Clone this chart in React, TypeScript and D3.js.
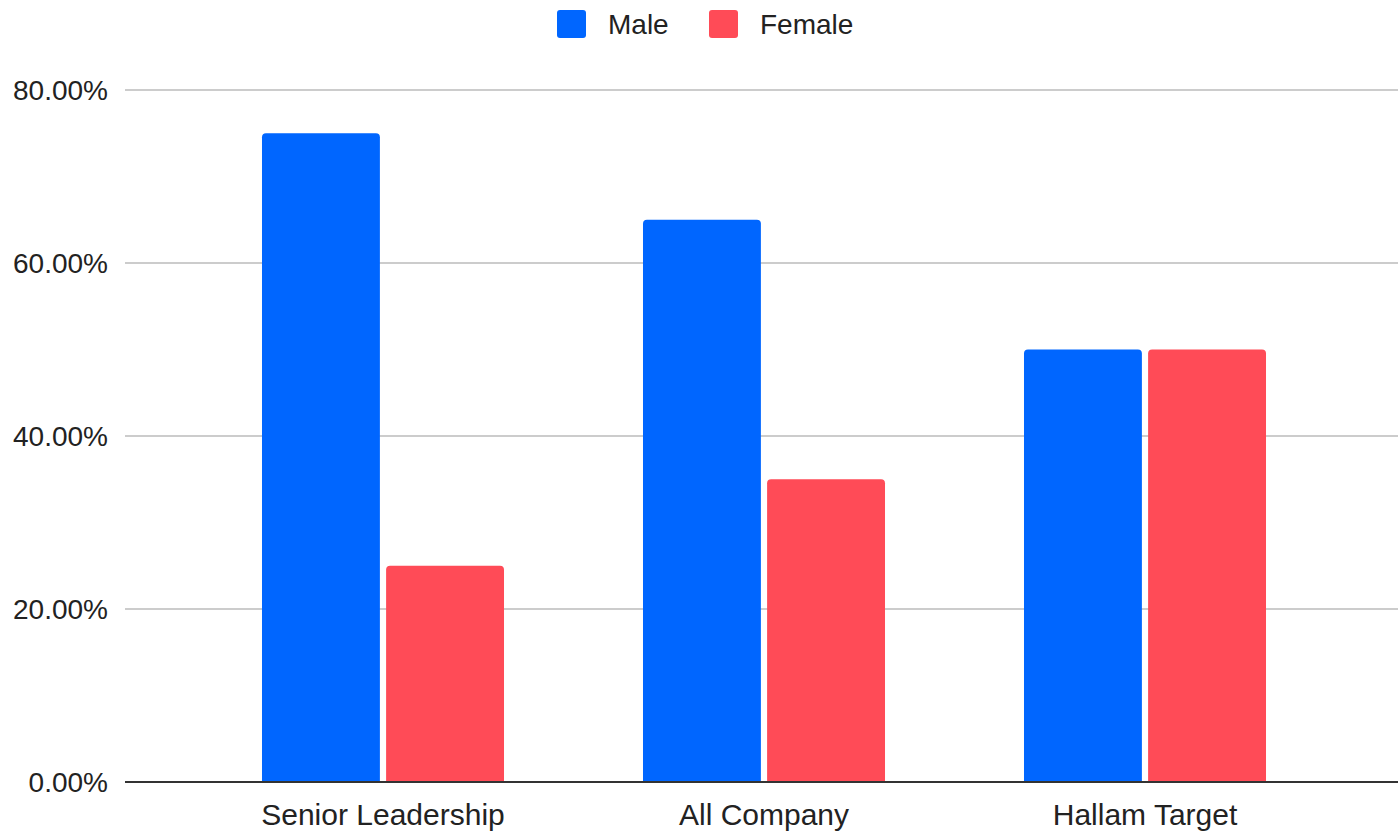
import React from "react";
import * as d3 from "d3";

const categories = ["Senior Leadership", "All Company", "Hallam Target"];
const seriesNames = ["Male", "Female"];
const maleValues = [0.75, 0.65, 0.5];
const femaleValues = [0.25, 0.35, 0.5];
const yTicks = [0, 0.2, 0.4, 0.6, 0.8];
const colors = ["#0066ff", "#ff4b57"];

const W = 1398;
const H = 833;
const plotLeft = 125;
const plotRight = 1398;
const yBottom = 782;
const yTop = 90;
const FONT = "'Liberation Sans', Arial, sans-serif";

function topRoundedRect(x: number, y: number, w: number, h: number, r: number) {
  const rr = Math.min(r, h, w / 2);
  return `M${x},${y + h}V${y + rr}Q${x},${y} ${x + rr},${y}H${x + w - rr}Q${x + w},${y} ${x + w},${y + rr}V${y + h}Z`;
}

export default function App() {
  const y = d3.scaleLinear().domain([0, 0.8]).range([yBottom, yTop]);
  const x0 = d3
    .scaleBand<string>()
    .domain(categories)
    .range([192.5, 1335.5])
    .paddingInner(0.3648)
    .paddingOuter(0.1824);
  const x1 = d3.scaleBand<string>().domain(seriesNames).range([0, x0.bandwidth()]).paddingInner(0.05);
  const series = [maleValues, femaleValues];
  const fmt = d3.format(".2%");

  return (
    <svg
      width={W}
      height={H}
      style={{ position: "absolute", left: 0, top: 0, background: "#fff" }}
      fontFamily={FONT}
    >
      <rect width={W} height={H} fill="#fff" />
      {yTicks.map((t) =>
        t === 0 ? null : (
          <line key={t} x1={plotLeft} x2={plotRight} y1={y(t)} y2={y(t)} stroke="#cccccc" strokeWidth={2} />
        )
      )}
      {yTicks.map((t) => (
        <text
          key={"l" + t}
          x={108}
          y={y(t)}
          textAnchor="end"
          dominantBaseline="central"
          fontSize={28}
          fill="#222"
        >
          {fmt(t)}
        </text>
      ))}
      {categories.map((c, i) => (
        <g key={c}>
          {seriesNames.map((s, j) => {
            const v = series[j][i];
            const bx = (x0(c) ?? 0) + (x1(s) ?? 0);
            const by = y(v);
            return (
              <path key={s} d={topRoundedRect(bx, by, x1.bandwidth(), yBottom - by, 4)} fill={colors[j]} />
            );
          })}
          <text
            x={(x0(c) ?? 0) + x0.bandwidth() / 2}
            y={825}
            textAnchor="middle"
            fontSize={30}
            fill="#222"
          >
            {c}
          </text>
        </g>
      ))}
      <line x1={plotLeft} x2={plotRight} y1={yBottom} y2={yBottom} stroke="#333" strokeWidth={2} />
      {seriesNames.map((s, j) => {
        const lx = [557, 709][j];
        return (
          <g key={"lg" + s}>
            <rect x={lx} y={10} width={29} height={28} rx={3} fill={colors[j]} />
            <text x={lx + 51} y={24} dominantBaseline="central" fontSize={28} fill="#222">
              {s}
            </text>
          </g>
        );
      })}
    </svg>
  );
}
